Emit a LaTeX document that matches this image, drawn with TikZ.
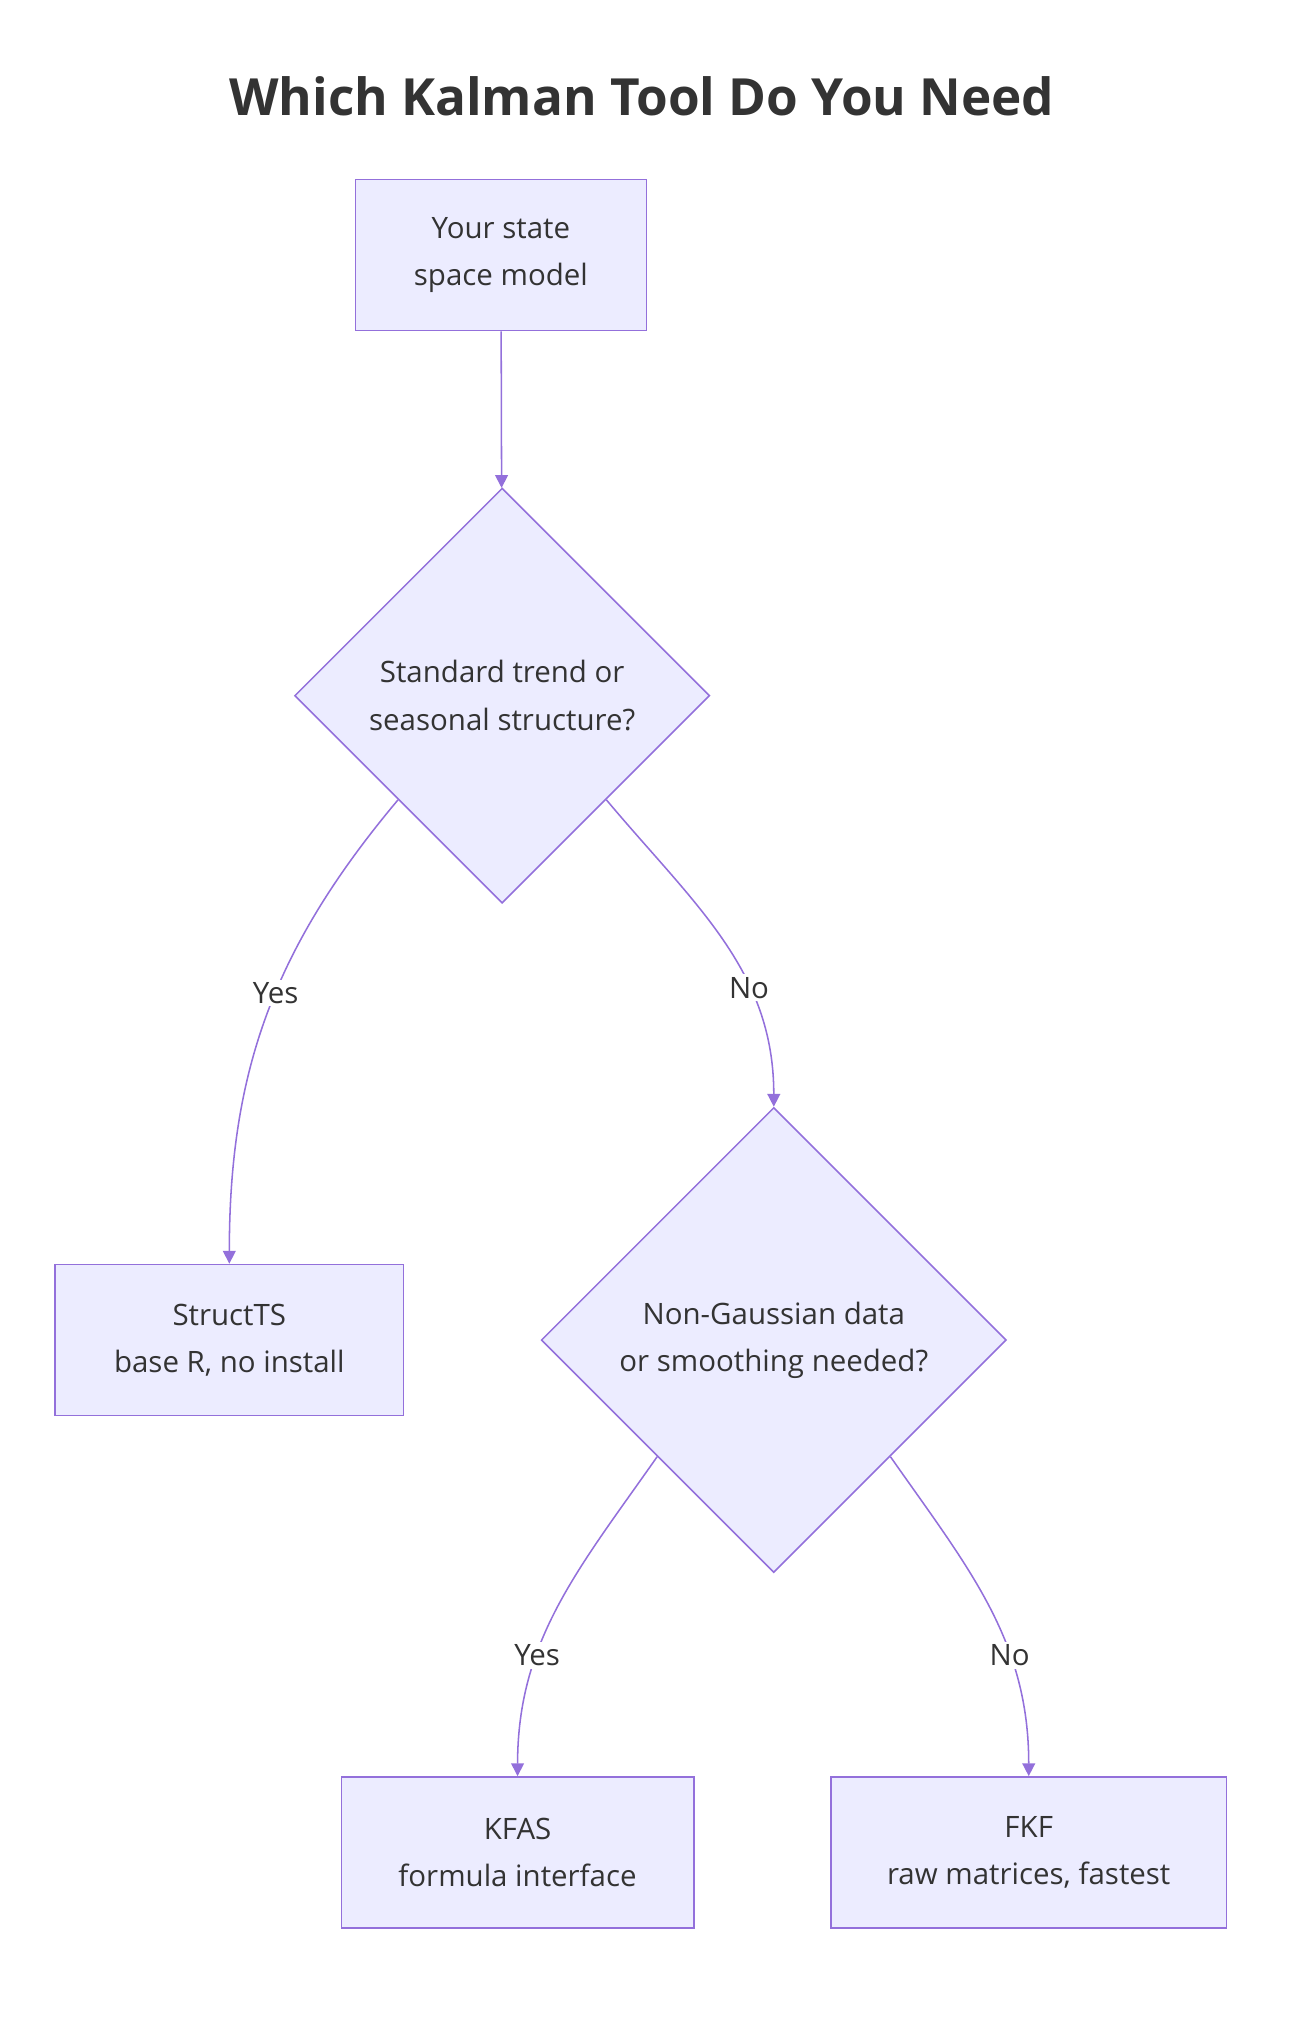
\documentclass[tikz,border=0pt]{standalone}
\usepackage{fontspec}
\setmainfont{Open Sans}
\usetikzlibrary{shapes.geometric,arrows.meta,positioning}
\definecolor{boxfill}{HTML}{ECECFF}
\definecolor{boxline}{HTML}{9370DB}
\definecolor{txt}{HTML}{333333}
\tikzset{
  stage/.style={draw=boxline, fill=boxfill, line width=0.6pt, text=txt, align=center,
    minimum height=59pt, inner sep=2pt, font=\fontsize{11.5}{18.5}\selectfont},
  choice/.style={draw=boxline, fill=boxfill, line width=0.6pt, diamond,
    inner sep=0pt, text=txt, align=center, font=\fontsize{11.5}{18.5}\selectfont},
  link/.style={draw=boxline, line width=0.6pt, -{Triangle[length=5pt,width=5pt]}},
  tag/.style={fill=white, text=txt, inner sep=1pt, font=\fontsize{11.5}{13}\selectfont}
}
\begin{document}
\begin{tikzpicture}[x=0.5pt,y=-0.5pt]
  \useasboundingbox (0,0) rectangle (1024,1583);

  % title
  \node[text=txt, font=\fontsize{20}{24}\selectfont\bfseries] (title) at (501,75) {Which Kalman Tool Do You Need};

  \node[stage, minimum width=113.5pt] (model) at (391,199) {Your state\\space model};
  \node[choice, minimum width=162pt, minimum height=162pt] (trend) at (392,543) {Standard trend or\\seasonal structure?};
  \node[stage, minimum width=136pt] (structts) at (179,1046) {StructTS\\base R, no install};
  \node[choice, minimum width=181.5pt, minimum height=181.5pt] (gauss) at (604,1046) {Non-Gaussian data\\or smoothing needed?};
  \node[stage, minimum width=137.5pt] (kfas) at (404,1446) {KFAS\\formula interface};
  \node[stage, minimum width=154.5pt] (fkf) at (803,1446) {FKF\\raw matrices, fastest};

  % connectors
  \draw[link] (model) -- (trend);
  \draw[link] (trend.south west) to[out=-130,in=90] node[tag, pos=0.45] {Yes} (structts.north);
  \draw[link] (trend.south east) to[out=-50,in=90] node[tag, pos=0.66] {No} (gauss.north);
  \draw[link] (gauss.south west) to[out=-125,in=90] node[tag, pos=0.66] {Yes} (kfas.north);
  \draw[link] (gauss.south east) to[out=-55,in=90] node[tag, pos=0.66] {No} (fkf.north);
\end{tikzpicture}
\end{document}
